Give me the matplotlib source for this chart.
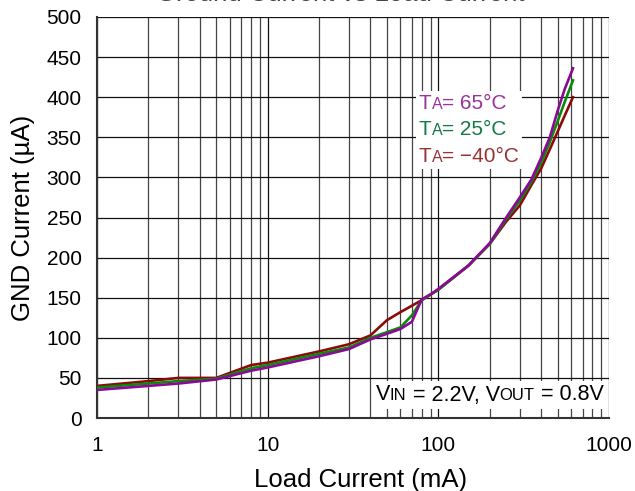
import matplotlib
matplotlib.use("Agg")
import matplotlib.pyplot as plt
from matplotlib.offsetbox import TextArea, HPacker, VPacker, AnchoredOffsetbox
from matplotlib.ticker import NullFormatter, LogLocator

plt.rcParams['font.family'] = ['Liberation Sans', 'DejaVu Sans']

# Data (load current in mA, GND current in uA)
load_ma = [1, 2, 3, 5, 8, 10, 20, 30, 40, 50, 60, 70, 80, 90, 100, 150, 200, 250, 300, 350, 400, 450, 500, 550, 615]
gnd_m40 = [40, 46, 50, 50, 66, 69, 83, 92, 103, 122, 132, 140, 147, 154, 160, 190, 217, 245, 265, 290, 311, 335, 357, 377, 400]
gnd_25 = [38, 43, 46, 49, 62, 66, 80, 88, 100, 107, 113, 128, 147, 154, 160, 190, 217, 248, 271, 294, 318, 344, 370, 394, 421]
gnd_65 = [35, 40, 43, 48, 59, 63, 77, 86, 98, 105, 111, 120, 148, 154, 161, 190, 218, 250, 275, 297, 324, 350, 383, 410, 436]

series = [
    ("−40°C", gnd_m40, "#8b0a0a", "#993333"),
    ("25°C", gnd_25, "#0a8a0a", "#117a45"),
    ("65°C", gnd_65, "#8a0a96", "#993399"),
]

x_ticks = [1, 10, 100, 1000]
x_ticklabels = ["1", "10", "100", "1000"]
y_ticks = list(range(0, 501, 50))

fig = plt.figure(figsize=(6.35, 4.91), dpi=100)
ax = fig.add_axes([97/635, 1 - 418/491, 512/635, 401/491])

for name, vals, lc, tc in series:
    ax.plot(load_ma, vals, color=lc, lw=1.9, zorder=3)

ax.set_xscale('log')
ax.set_xlim(1, 1000)
ax.set_ylim(0, 500)
ax.set_xticks(x_ticks)
ax.set_xticklabels(x_ticklabels)
ax.xaxis.set_minor_locator(LogLocator(base=10, subs=range(2, 10)))
ax.xaxis.set_minor_formatter(NullFormatter())
ax.set_yticks(y_ticks)
ax.tick_params(axis='both', which='both', length=0, labelsize=15)
ax.tick_params(axis='x', pad=13)
ax.tick_params(axis='y', pad=11)
ax.grid(True, which='major', color='#111111', lw=0.9)
ax.grid(True, which='minor', axis='x', color='#444444', lw=0.9)
ax.set_axisbelow(True)
for s in ['top', 'right']:
    ax.spines[s].set_visible(False)
for s in ['left', 'bottom']:
    ax.spines[s].set_color('#333333')
    ax.spines[s].set_linewidth(1.5)

ax.set_xlabel("Load Current (mA)", fontsize=18.5, labelpad=9)
ax.xaxis.set_label_coords((361 - 97) / 512, -0.125)
ax.set_ylabel("GND Current (µA)", fontsize=18.5, labelpad=8)

fig.text(340/635, 490/491, "Ground Current vs Load Current", fontsize=18.5, ha='center',
         va='baseline', color='#444444')

# Legend
def row(parts):
    boxes = [TextArea(t, textprops=dict(color=c, fontsize=fs)) for t, c, fs in parts]
    return HPacker(children=boxes, align="baseline", pad=0, sep=0)

rows = []
for name, vals, lc, tc in reversed(series):
    rows.append(row([("T", tc, 15), ("A", tc, 11.5), ("= " + name, tc, 15)]))
leg = VPacker(children=rows, align="left", pad=0, sep=5.5)
ab = AnchoredOffsetbox(loc='upper left', child=leg, pad=0.2, borderpad=0,
                       frameon=True, bbox_to_anchor=(416/635, 1 - 91/491),
                       bbox_transform=fig.transFigure)
ab.patch.set_facecolor('white')
ab.patch.set_edgecolor('none')
ab.zorder = 4
ax.add_artist(ab)

# Condition box
cond = row([("V", 'black', 15.5), ("IN", 'black', 12), (" = 2.2V, V", 'black', 15.5),
            ("OUT", 'black', 12), (" = 0.8V", 'black', 15.5)])
cb = AnchoredOffsetbox(loc='center right', child=cond, pad=0.25, borderpad=0,
                       frameon=True, bbox_to_anchor=(607/635, 1 - 395/491),
                       bbox_transform=fig.transFigure)
cb.patch.set_facecolor('white')
cb.patch.set_edgecolor('none')
cb.zorder = 4
ax.add_artist(cb)

fig.savefig("out.png", dpi=100)
